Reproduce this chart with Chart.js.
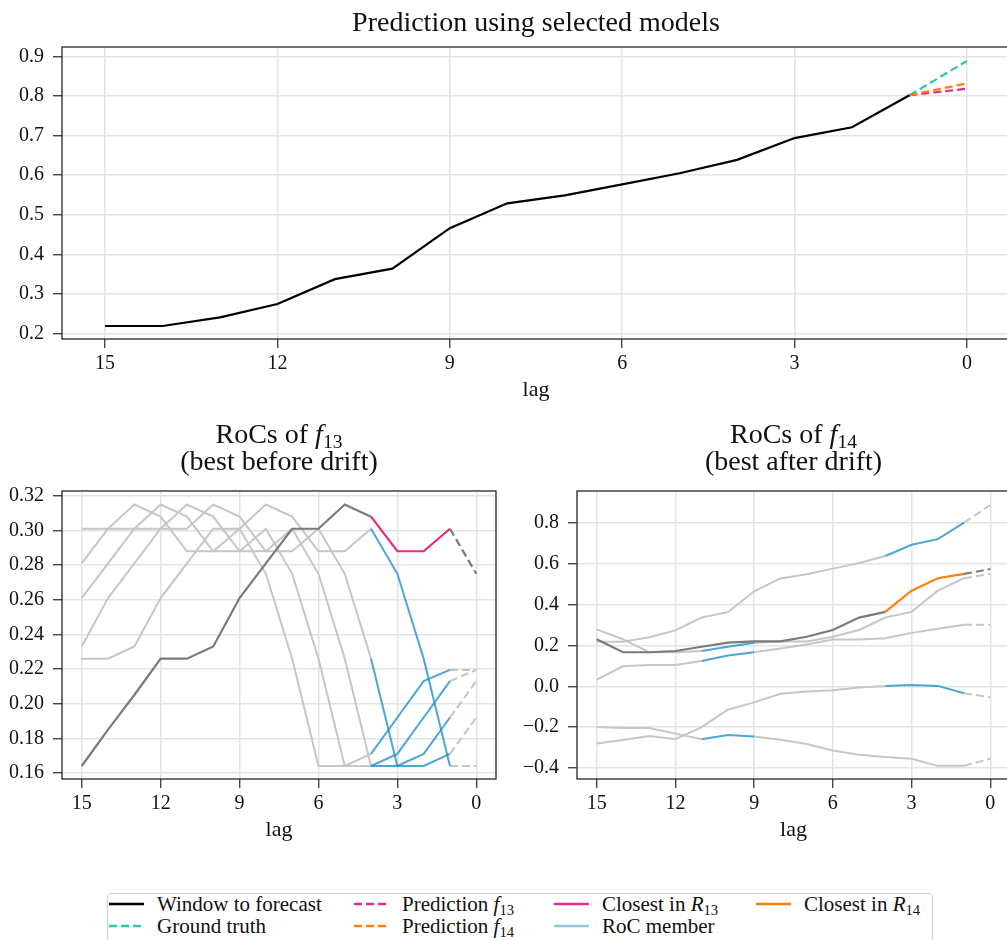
<!DOCTYPE html>
<html>
<head>
<meta charset="utf-8">
<script src="https://cdn.jsdelivr.net/npm/chart.js@4.4.0/dist/chart.umd.min.js"></script>
<style>
  html, body { margin: 0; padding: 0; overflow: hidden; background: #fff; }
  #fig { position: relative; width: 1007px; height: 940px; overflow: hidden; font-family: 'Liberation Serif', serif; color: #111; }
  canvas { position: absolute; }
  .ttl { position: absolute; text-align: center; font-size: 28px; white-space: nowrap; }
  sub { font-size: 0.7em; vertical-align: -0.28em; line-height: 0; font-style: normal; }
  #legend { position: absolute; left: 107px; top: 893px; width: 824px; height: 70px; border: 1.5px solid #d0d0d0; border-radius: 4px; font-size: 21px; }
  .item { position: absolute; white-space: nowrap; height: 22px; line-height: 22px; }
  .item svg { position: absolute; left: 0; top: 6px; }
  .item span { position: absolute; left: 48px; top: 0; }
</style>
</head>
<body>
<div id="fig">
  <canvas id="top" width="1020" height="403" style="left:0;top:0"></canvas>
  <canvas id="r13" width="510" height="373" style="left:0;top:470px"></canvas>
  <canvas id="r14" width="510" height="373" style="left:510px;top:470px"></canvas>

  <div class="ttl" style="left:0;width:1072px;top:7px;line-height:30px">Prediction using selected models</div>
  <div class="ttl" style="left:0;width:558px;top:420px;line-height:27px">RoCs of <i>f</i><sub>13</sub><br>(best before drift)</div>
  <div class="ttl" style="left:577px;width:433px;top:420px;line-height:27px">RoCs of <i>f</i><sub>14</sub><br>(best after drift)</div>

  <div id="legend"></div>
</div>

<script>
// lags on the x axis, oldest first
const lags = [15, 14, 13, 12, 11, 10, 9, 8, 7, 6, 5, 4, 3, 2, 1, 0];
const xTicks = [15, 12, 9, 6, 3, 0];

// top panel: window to forecast (lags 15..1) and the values at lag 0
const windowVals = [0.2185, 0.2185, 0.2405, 0.274, 0.337, 0.3635, 0.466, 0.529, 0.549, 0.577, 0.605, 0.639, 0.694, 0.7215, 0.8025];
const groundTruth = 0.889;
const predF13 = 0.819;
const predF14 = 0.8325;
const topYTicks = [0.2, 0.3, 0.4, 0.5, 0.6, 0.7, 0.8, 0.9];

// RoC of f13: every window is a 16-long slice of this series
const r13Series = [0.164, 0.185, 0.205, 0.226, 0.226, 0.233, 0.261, 0.281, 0.301, 0.301, 0.315, 0.308,
                   0.288, 0.288, 0.301, 0.275, 0.226, 0.164, 0.164, 0.171, 0.192, 0.213, 0.2195, 0.2195];
const r13Closest = 0;
const r13Members = [3, 5, 6, 7, 8];
const r13YTicks = [0.16, 0.18, 0.20, 0.22, 0.24, 0.26, 0.28, 0.30, 0.32];

// RoC of f14 (values for lags 15..0)
const r14Closest = [0.231, 0.167, 0.167, 0.173, 0.194, 0.214, 0.22, 0.22, 0.243, 0.276, 0.337, 0.365, 0.469, 0.53, 0.551, 0.575];
const r14A = [0.279, 0.231, 0.167, 0.167, 0.173, 0.194, 0.214, 0.22, 0.22, 0.243, 0.276, 0.337, 0.365, 0.469, 0.53, 0.551];
const r14B = [0.033, 0.098, 0.104, 0.104, 0.124, 0.151, 0.167, 0.185, 0.205, 0.229, 0.23, 0.236, 0.262, 0.282, 0.302, 0.302];
const r14C = [-0.2, -0.204, -0.204, -0.232, -0.26, -0.239, -0.246, -0.262, -0.283, -0.315, -0.336, -0.347, -0.355, -0.39, -0.39, -0.355];
const r14D = [-0.281, -0.263, -0.244, -0.259, -0.2, -0.114, -0.079, -0.037, -0.026, -0.019, -0.006, 0.002, 0.006, 0.002, -0.034, -0.054];
const r14Window = windowVals.concat([groundTruth]);
// which lags of each member are inside the RoC
const r14Members = [
  { vals: r14Window, from: 4, to: 1 },
  { vals: r14A, from: 11, to: 9 },
  { vals: r14B, from: 11, to: 9 },
  { vals: r14C, from: 11, to: 9 },
  { vals: r14D, from: 4, to: 1 }
];
const r14YTicks = [-0.4, -0.2, 0.0, 0.2, 0.4, 0.6, 0.8];

const FONT = "'Liberation Serif', serif";
const INK = '#111';
const LIGHT = '#c6c6c6';
const DARK = '#7a7a7a';
const BLUE = 'rgba(30,145,200,0.8)';
const PINK = '#e7298a';
const ORANGE = '#ff7f0e';
const TEAL = '#2fc6a5';
const DASH = [8, 4];

function pts(vals, from, to) {
  return lags.map((l, i) => ({ x: l, y: vals[i] })).filter(p => p.x <= from && p.x >= to);
}

function line(data, color, width, dash) {
  return { data: data, borderColor: color, borderWidth: width, borderDash: dash || [],
           pointRadius: 0, tension: 0, fill: false };
}

const framePlugin = {
  id: 'frame',
  afterDraw(chart) {
    const a = chart.chartArea, ctx = chart.ctx;
    ctx.save();
    ctx.strokeStyle = '#262626';
    ctx.lineWidth = 1.3;
    ctx.strokeRect(a.left, a.top, a.right - a.left, a.bottom - a.top);
    ctx.restore();
  }
};

function makeChart(id, datasets, o) {
  const grid = { color: '#e3e3e3', lineWidth: 1.5, tickColor: '#262626', tickLength: 9, tickWidth: 1.2 };
  return new Chart(document.getElementById(id), {
    type: 'line',
    data: { datasets: datasets },
    options: {
      responsive: false,
      animation: false,
      devicePixelRatio: 1,
      layout: { padding: o.pad },
      plugins: { legend: { display: false }, tooltip: { enabled: false }, title: { display: false } },
      scales: {
        x: {
          type: 'linear', reverse: true, min: -0.75, max: 15.75,
          afterBuildTicks: s => { s.ticks = xTicks.map(v => ({ value: v })); },
          afterFit: s => { s.height = o.xh; },
          grid: grid,
          border: { display: false },
          ticks: { color: INK, font: { family: FONT, size: 20 }, padding: 4, maxRotation: 0, callback: v => String(v) },
          title: { display: true, text: 'lag', color: INK, font: { family: FONT, size: 22 }, padding: { top: 0, bottom: 0 } }
        },
        y: {
          type: 'linear', min: o.ymin, max: o.ymax,
          afterBuildTicks: s => { s.ticks = o.yticks.map(v => ({ value: v })); },
          afterFit: s => { s.width = o.yw; },
          grid: grid,
          border: { display: false },
          ticks: { color: INK, font: { family: FONT, size: 20 }, padding: 9,
                   callback: v => (v < 0 ? '\u2212' : '') + Math.abs(v).toFixed(o.digits) }
        }
      }
    },
    plugins: [framePlugin]
  });
}

// top panel
const lastSeen = { x: 1, y: windowVals[windowVals.length - 1] };
makeChart('top', [
  line(pts(r14Window, 15, 1), '#000', 2.2),
  line([lastSeen, { x: 0, y: predF14 }], ORANGE, 2.2, DASH),
  line([lastSeen, { x: 0, y: predF13 }], PINK, 2.2, DASH),
  line([lastSeen, { x: 0, y: groundTruth }], TEAL, 2.2, DASH)
], { pad: { top: 47, left: 0, right: 10, bottom: 0 }, yw: 62, xh: 64,
     ymin: 0.1856, ymax: 0.9245, yticks: topYTicks, digits: 1 });

// RoCs of f13
const r13Win = s => r13Series.slice(s, s + 16);
const closest13 = r13Win(r13Closest);
const sets13 = [line(pts(closest13, 4, 1), PINK, 2.2)];
r13Members.forEach(s => sets13.push(line(pts(r13Win(s), 4, 1), BLUE, 2)));
sets13.push(line(pts(closest13, 1, 0), DARK, 2.2, DASH));
sets13.push(line(pts(closest13, 15, 4), DARK, 2.2));
r13Members.forEach(s => sets13.push(line(pts(r13Win(s), 1, 0), LIGHT, 2, DASH)));
r13Members.forEach(s => sets13.push(line(pts(r13Win(s), 15, 4), LIGHT, 2)));
makeChart('r13', sets13, { pad: { top: 16, left: 0, right: 14, bottom: 0 }, yw: 62, xh: 64,
  ymin: 0.1565, ymax: 0.3228, yticks: r13YTicks, digits: 2 });

// RoCs of f14
const sets14 = [line(pts(r14Closest, 4, 1), ORANGE, 2.2)];
r14Members.forEach(m => sets14.push(line(pts(m.vals, m.from, m.to), BLUE, 2)));
sets14.push(line(pts(r14Closest, 1, 0), DARK, 2.2, DASH));
sets14.push(line(pts(r14Closest, 15, 4), DARK, 2.2));
r14Members.forEach(m => {
  sets14.push(line(pts(m.vals, 1, 0), LIGHT, 2, DASH));
  sets14.push(line(pts(m.vals, 15, m.from), LIGHT, 2));
  if (m.to > 1) sets14.push(line(pts(m.vals, m.to, 1), LIGHT, 2));
});
makeChart('r14', sets14, { pad: { top: 16, left: 0, right: 10, bottom: 0 }, yw: 67, xh: 64,
  ymin: -0.4545, ymax: 0.9576, yticks: r14YTicks, digits: 1 });

// legend
const legendItems = [
  { label: 'Window to forecast', color: '#000', dash: false, x: 1, row: 0 },
  { label: 'Ground truth', color: TEAL, dash: true, x: 1, row: 1 },
  { label: 'Prediction <i>f</i><sub>13</sub>', color: PINK, dash: true, x: 246, row: 0 },
  { label: 'Prediction <i>f</i><sub>14</sub>', color: ORANGE, dash: true, x: 246, row: 1 },
  { label: 'Closest in <i>R</i><sub>13</sub>', color: PINK, dash: false, x: 446, row: 0 },
  { label: 'RoC member', color: 'rgba(30,145,200,0.5)', dash: false, x: 446, row: 1 },
  { label: 'Closest in <i>R</i><sub>14</sub>', color: ORANGE, dash: false, x: 648, row: 0 }
];
const leg = document.getElementById('legend');
legendItems.forEach(it => {
  const d = document.createElement('div');
  d.className = 'item';
  d.style.left = it.x + 'px';
  d.style.top = (it.row === 0 ? -1 : 21) + 'px';
  d.innerHTML = '<svg width="36" height="10"><line x1="0" y1="5" x2="35" y2="5" stroke="' + it.color +
    '" stroke-width="2.4"' + (it.dash ? ' stroke-dasharray="8 4"' : '') + '/></svg><span>' + it.label + '</span>';
  leg.appendChild(d);
});
</script>
</body>
</html>
